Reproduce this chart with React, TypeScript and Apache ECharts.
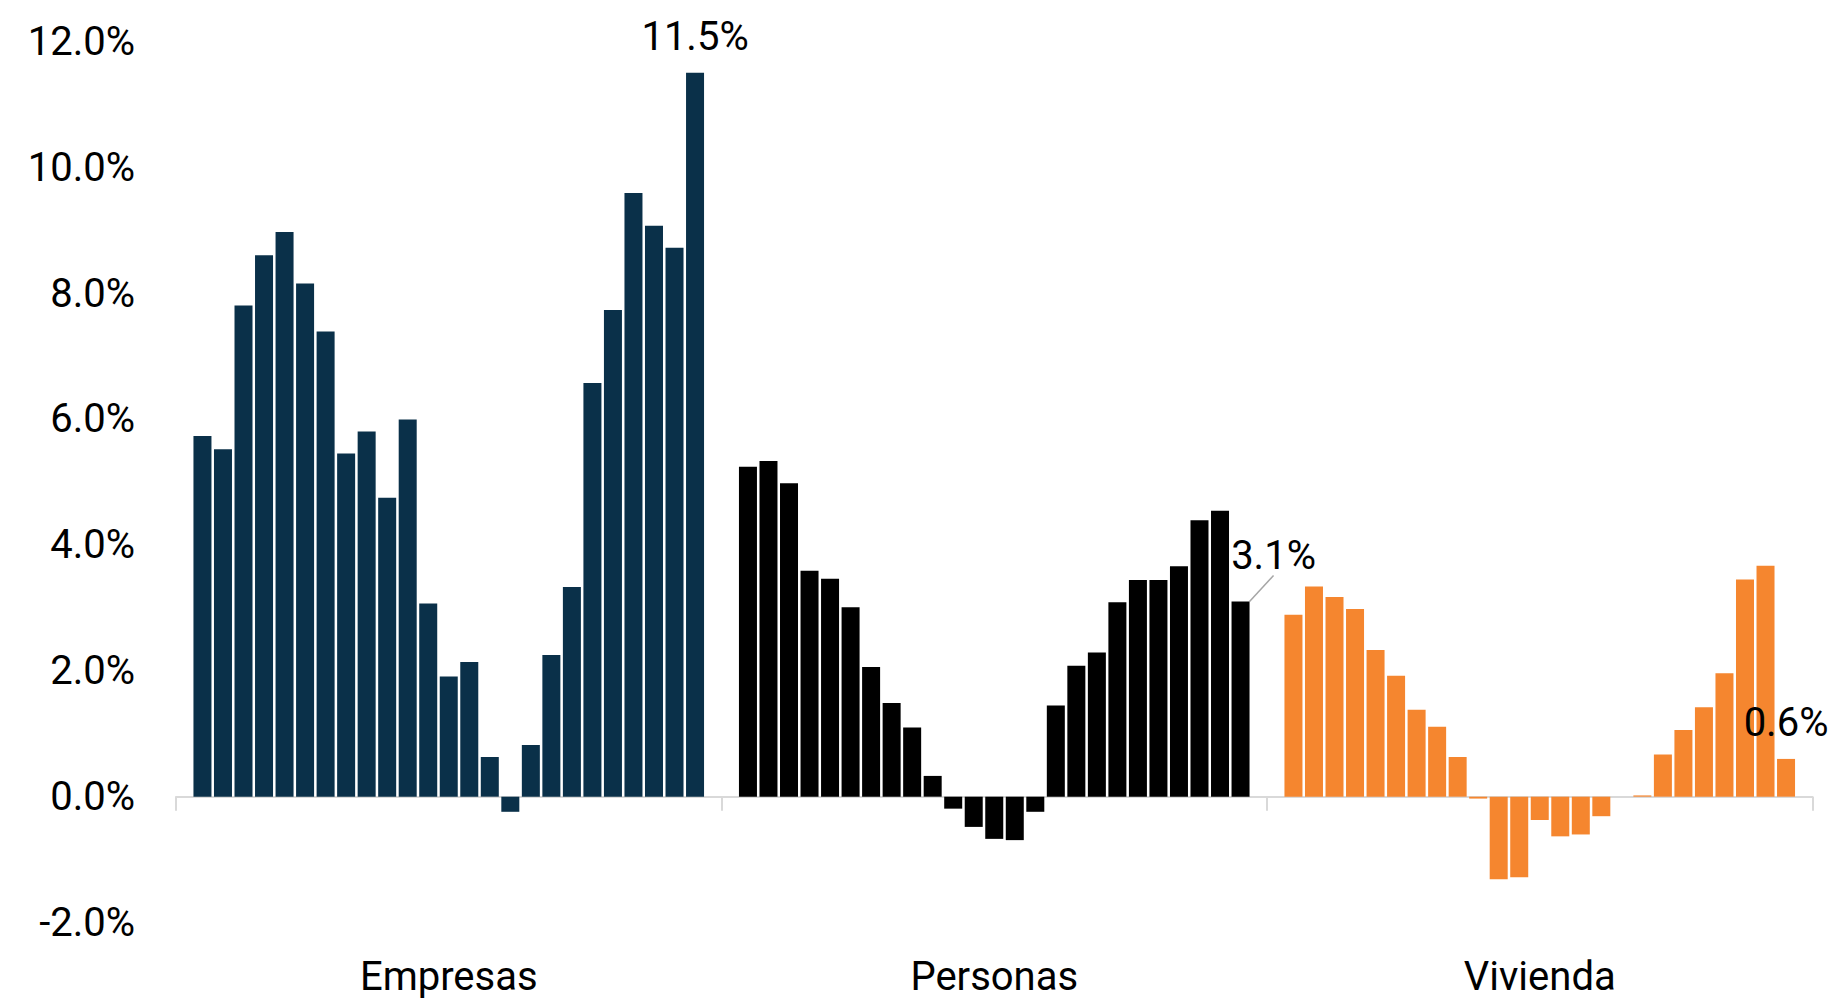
import React, { useEffect, useRef } from "react";
import * as echarts from "echarts";

const categories = ["Empresas", "Personas", "Vivienda"];

const empresas = [5.73, 5.52, 7.8, 8.6, 8.97, 8.15, 7.39, 5.45, 5.8, 4.75, 5.99, 3.07, 1.91, 2.14, 0.63, -0.24, 0.82, 2.25, 3.33, 6.57, 7.73, 9.59, 9.07, 8.72, 11.5];
const personas = [5.24, 5.33, 4.98, 3.59, 3.46, 3.01, 2.06, 1.49, 1.1, 0.33, -0.19, -0.48, -0.67, -0.69, -0.24, 1.45, 2.08, 2.29, 3.09, 3.44, 3.44, 3.66, 4.39, 4.54, 3.1];
const vivienda = [2.89, 3.34, 3.17, 2.98, 2.33, 1.92, 1.38, 1.11, 0.63, -0.03, -1.31, -1.28, -0.37, -0.63, -0.6, -0.31, 0, 0.02, 0.67, 1.06, 1.42, 1.96, 3.45, 3.67, 0.6];

const categoryColors = ["#0a3049", "#000000", "#f5862f"];
const yTicks = { min: -2, max: 12, interval: 2 };

const FONT = "Roboto, 'Liberation Sans', sans-serif";

export default function App() {
  const ref = useRef<HTMLDivElement>(null);
  useEffect(() => {
    if (!ref.current) return;
    const chart = echarts.init(ref.current, undefined, { renderer: "svg" });
    const n = empresas.length;
    const series: any[] = [];
    for (let i = 0; i < n; i++) {
      const isLast = i === n - 1;
      const values = [empresas[i], personas[i], vivienda[i]];
      series.push({
        type: "bar",
        xAxisIndex: 0,
        data: isLast
          ? values.map((v, j) => ({ value: v, labelLine: { show: j === 1 } }))
          : values,
        barGap: "14%",
        barCategoryGap: "6.4%",
        itemStyle: { color: (p: any) => categoryColors[p.dataIndex] },
        label: isLast
          ? {
              show: true,
              position: "top",
              distance: 16,
              formatter: (p: any) => (p.value as number).toFixed(1) + "%",
              fontSize: 40,
              fontFamily: FONT,
              color: "#000",
            }
          : { show: false },
        labelLine: isLast
          ? { show: false, lineStyle: { color: "#a6a6a6", width: 1.5 } }
          : undefined,
        labelLayout: isLast
          ? (p: any) => (p.dataIndex === 1 ? { dx: 33, dy: -10 } : {})
          : undefined,
      });
    }
    chart.setOption({
      animation: false,
      grid: { left: 176, right: 24.5, top: 41.2, bottom: 76.4, containLabel: false },
      xAxis: [
        {
          type: "category",
          data: categories,
          position: "bottom",
          axisLine: { show: true, onZero: true, lineStyle: { color: "#d9d9d9", width: 2 } },
          axisTick: { show: true, length: 14, lineStyle: { color: "#d9d9d9", width: 2 } },
          axisLabel: { show: false },
          splitLine: { show: false },
        },
        {
          type: "category",
          data: categories,
          position: "bottom",
          axisLine: { show: false, onZero: false },
          axisTick: { show: false },
          axisLabel: { show: true, fontSize: 40, fontFamily: FONT, color: "#000", margin: 34 },
          splitLine: { show: false },
        },
      ],
      yAxis: {
        type: "value",
        min: yTicks.min,
        max: yTicks.max,
        interval: yTicks.interval,
        axisLine: { show: false },
        axisTick: { show: false },
        splitLine: { show: false },
        axisLabel: {
          fontSize: 40,
          fontFamily: FONT,
          color: "#000",
          margin: 41,
          formatter: (v: number) => v.toFixed(1) + "%",
        },
      },
      series,
    });
    return () => chart.dispose();
  }, []);
  return (
    <div
      ref={ref}
      style={{ position: "absolute", left: 0, top: 0, width: 1837, height: 999, background: "#fff" }}
    />
  );
}
